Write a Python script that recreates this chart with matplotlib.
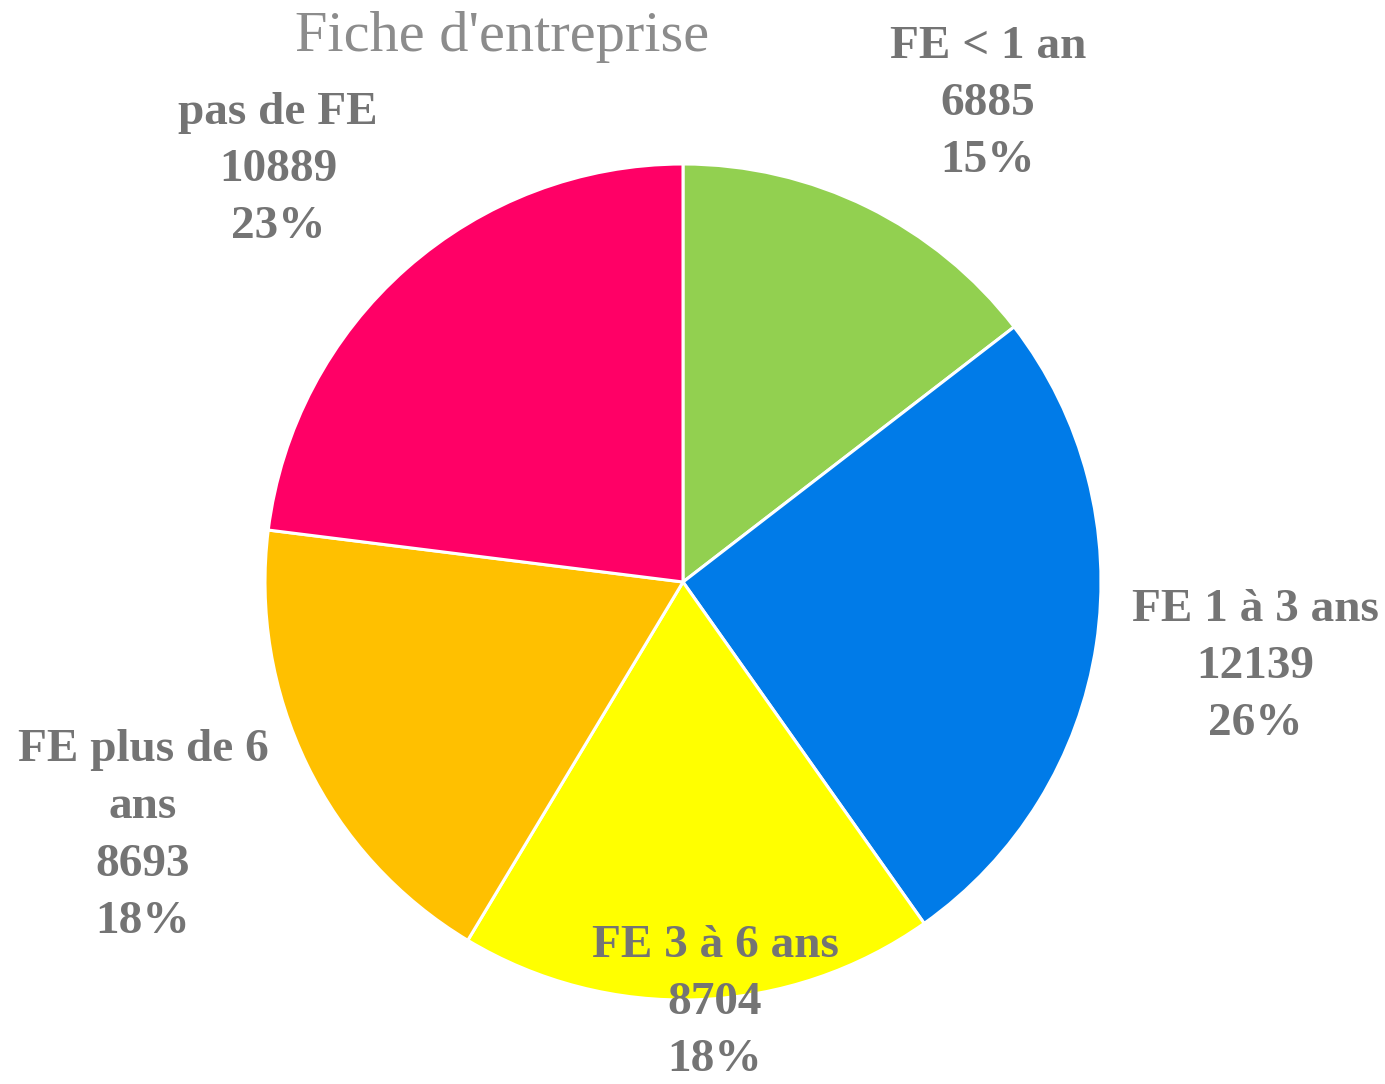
import matplotlib
matplotlib.use('Agg')
import matplotlib.pyplot as plt

plt.rcParams['font.family'] = ['Liberation Serif', 'DejaVu Serif']

labels = ['FE < 1 an', 'FE 1 à 3 ans', 'FE 3 à 6 ans', 'FE plus de 6\nans', 'pas de FE']
values = [6885, 12139, 8704, 8693, 10889]
percents = ['15%', '26%', '18%', '18%', '23%']
colors = ['#92D050', '#007BE8', '#FFFF00', '#FFC000', '#FF0066']

# label anchor positions (pixels, image coords from top-left)
label_pos = [(988, 104), (1255, 667), (715, 1003), (143, 836), (278, 170)]

W, H = 1385, 1084
fig = plt.figure(figsize=(W / 100, H / 100), dpi=100)
ax = fig.add_axes([0, 0, 1, 1])

cx, cy, r = 683, H - 582, 418
ax.pie(values, colors=colors, startangle=90, counterclock=False,
       center=(cx, cy), radius=r, frame=True,
       wedgeprops=dict(edgecolor='white', linewidth=2.2))
ax.set_xlim(0, W)
ax.set_ylim(0, H)
ax.set_aspect('equal')
ax.axis('off')

for lab, v, p, (x, y) in zip(labels, values, percents, label_pos):
    ax.text(x, H - y, f'{lab}\n{v}\n{p}', ha='center', va='center',
            fontsize=34, fontweight='bold', color='#747474', linespacing=1.48)

ax.text(502, H - 37, "Fiche d'entreprise", ha='center', va='center',
        fontsize=42, color='#8C8C8C')

fig.savefig('out.png', dpi=100)
